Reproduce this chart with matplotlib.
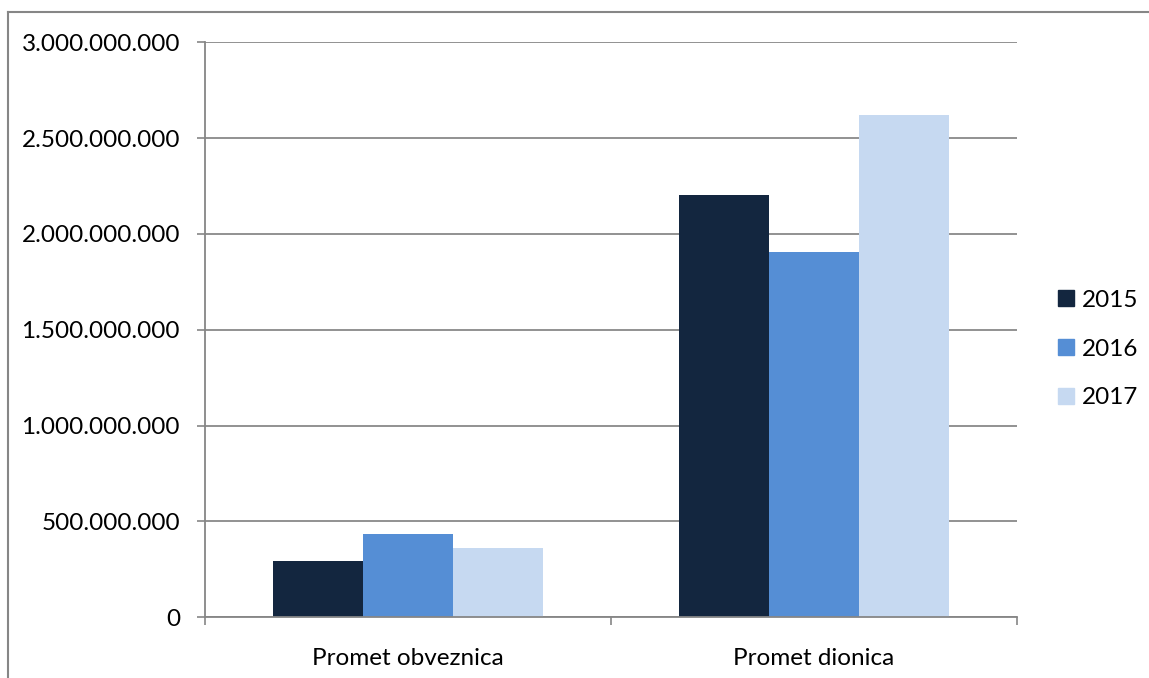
import matplotlib
matplotlib.use('Agg')
import matplotlib.pyplot as plt
from matplotlib.lines import Line2D
from matplotlib.patches import Patch
import numpy as np

# data
categories = ['Promet obveznica', 'Promet dionica']
years = ['2015', '2016', '2017']
values_2015 = [292000000, 2203000000]
values_2016 = [435000000, 1907000000]
values_2017 = [363000000, 2621000000]
colors = ['#13263F', '#558ED5', '#C6D9F1']
yticks = [0, 500000000, 1000000000, 1500000000, 2000000000, 2500000000, 3000000000]

plt.rcParams['font.family'] = ['Lato', 'DejaVu Sans']
fs = 17.5

W, H = 1149, 678
fig = plt.figure(figsize=(W / 100, H / 100), dpi=100)
ax = fig.add_axes([205 / W, (H - 617.3) / H, 812 / W, 575 / H])

# outer chart border (only left and top visible in the crop)
fig.add_artist(Line2D([8 / W, 8 / W], [0, 1 - 12 / H], transform=fig.transFigure, color='#868686', lw=1.5))
fig.add_artist(Line2D([8 / W, 1], [1 - 12 / H, 1 - 12 / H], transform=fig.transFigure, color='#868686', lw=1.5))

series = [values_2015, values_2016, values_2017]
x = np.arange(len(categories))
bw = 0.2222
for i, vals in enumerate(series):
    ax.bar(x + (i - 1) * bw, vals, width=bw, color=colors[i], label=years[i], zorder=3)

ax.set_xlim(-0.5, 1.5)
ax.set_ylim(0, 3000000000)
ax.set_yticks(yticks)
ax.set_yticklabels(['{:,}'.format(v).replace(',', '.') for v in yticks])
ax.set_xticks(x)
ax.set_xticklabels(categories)
ax.tick_params(axis='x', length=0, pad=22, labelsize=fs)
ax.tick_params(axis='y', length=6, width=1.2, color='#868686', pad=12, labelsize=fs)

# category boundary ticks
ax.set_xticks([-0.5, 0.5, 1.5], minor=True)
ax.tick_params(axis='x', which='minor', length=6, width=1.2, color='#868686')

ax.grid(axis='y', color='#898989', lw=1.3, zorder=0)
for s in ['top', 'right']:
    ax.spines[s].set_visible(False)
for s in ['left', 'bottom']:
    ax.spines[s].set_color('#868686')
    ax.spines[s].set_linewidth(1.3)
    ax.spines[s].set_zorder(4)

handles = [Patch(color=c, label=y) for c, y in zip(colors, years)]
fig.legend(handles=handles, loc='center left', bbox_to_anchor=(1058 / W, 1 - 349 / H),
           frameon=False, fontsize=fs, handlelength=0.65, handleheight=0.65,
           handletextpad=0.35, labelspacing=1.15, borderpad=0, borderaxespad=0)

fig.savefig('out.png', dpi=100)
